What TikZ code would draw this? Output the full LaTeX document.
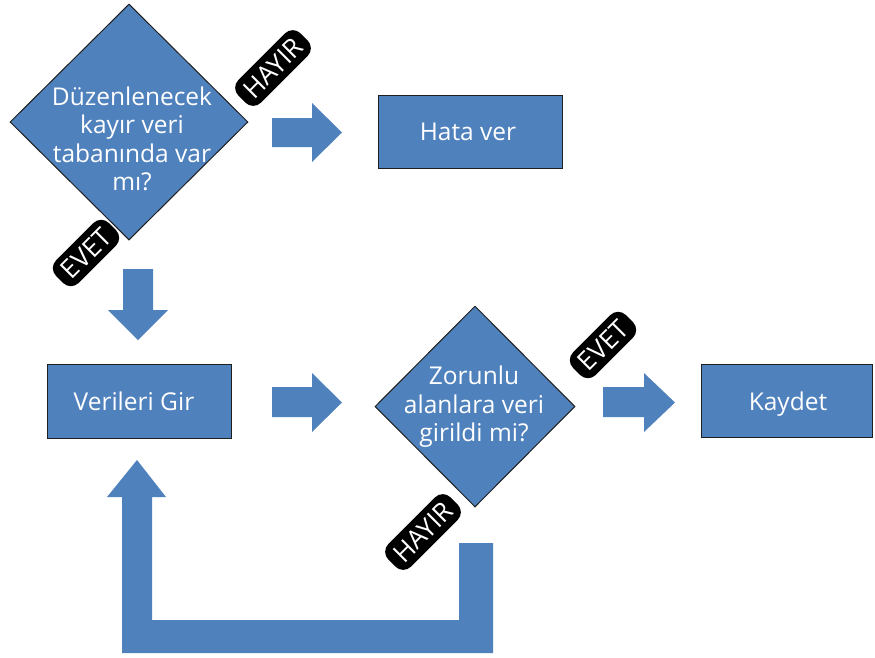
\documentclass[tikz,border=0pt]{standalone}
\usepackage{fontspec}
\setmainfont{Open Sans}
\usetikzlibrary{shapes.geometric}
\definecolor{flowblue}{HTML}{4F81BD}
\definecolor{edgedark}{HTML}{1F1F1F}
\tikzset{
  flowbox/.style={draw=edgedark, line width=1pt, fill=flowblue, inner sep=0pt},
  decision/.style={diamond, draw=edgedark, line width=1pt, fill=flowblue, inner sep=0pt},
  boxtext/.style={text=white, font=\fontsize{24.5}{28.5}\selectfont, align=center, inner sep=0pt},
  capline/.style={text height=17.5pt, text depth=0pt},
  flowarrow/.style={fill=flowblue},
  answer/.style={fill=black, text=white, rounded corners=11pt, rotate=45,
    font=\fontsize{26}{26}\selectfont, text height=19pt, text depth=0pt,
    inner xsep=8pt, inner ysep=6.5pt}
}
\begin{document}
\begin{tikzpicture}[x=1pt, y=-1pt]
  \useasboundingbox (0,0) rectangle (875,657);

  % decisions and process boxes
  \node[decision, minimum width=238pt, minimum height=236pt] (d1) at (129,122) {};
  \node[boxtext] (d1t) at (132,139) {Düzenlenecek\\kayır veri\\tabanında var\\mı?};

  \node[flowbox, minimum width=184pt, minimum height=73pt] (hata) at (470,131.5) {};
  \node[boxtext, capline] (hatat) at (468,131.5) {Hata ver};

  \node[flowbox, minimum width=184pt, minimum height=74pt] (gir) at (139,401) {};
  \node[boxtext, capline] (girt) at (134,401.5) {Verileri Gir};

  \node[decision, minimum width=200pt, minimum height=201pt] (d2) at (475,406.5) {};
  \node[boxtext] (d2t) at (474,407) {Zorunlu\\alanlara veri\\girildi mi?};

  \node[flowbox, minimum width=171pt, minimum height=73pt] (kaydet) at (786.5,400.5) {};
  \node[boxtext, capline] (kaydett) at (788,401.5) {Kaydet};

  % block arrows
  \fill[flowarrow] (272,118) -- (312,118) -- (312,103) -- (342,132.5)
    -- (312,162) -- (312,147) -- (272,147) -- cycle;
  \fill[flowarrow] (123,269) -- (153,269) -- (153,310) -- (168,310)
    -- (138,340) -- (108,310) -- (123,310) -- cycle;
  \fill[flowarrow] (272,387) -- (312,387) -- (312,373) -- (342,402.5)
    -- (312,432) -- (312,417) -- (272,417) -- cycle;
  \fill[flowarrow] (603,387) -- (644,387) -- (644,373) -- (675,402.5)
    -- (644,432) -- (644,417) -- (603,417) -- cycle;
  % loop back from the second decision to data entry
  \fill[flowarrow] (459,543) -- (493,543) -- (493,653) -- (122,653) -- (122,497)
    -- (107,497) -- (137,460) -- (166,497) -- (152,497) -- (152,620)
    -- (459,620) -- cycle;

  % answer tags
  \node[answer] (h1) at (273,68) {HAYIR};
  \node[answer] (e1) at (86,253) {EVET};
  \node[answer] (e2) at (603,345) {EVET};
  \node[answer] (h2) at (423,532) {HAYIR};
\end{tikzpicture}
\end{document}
